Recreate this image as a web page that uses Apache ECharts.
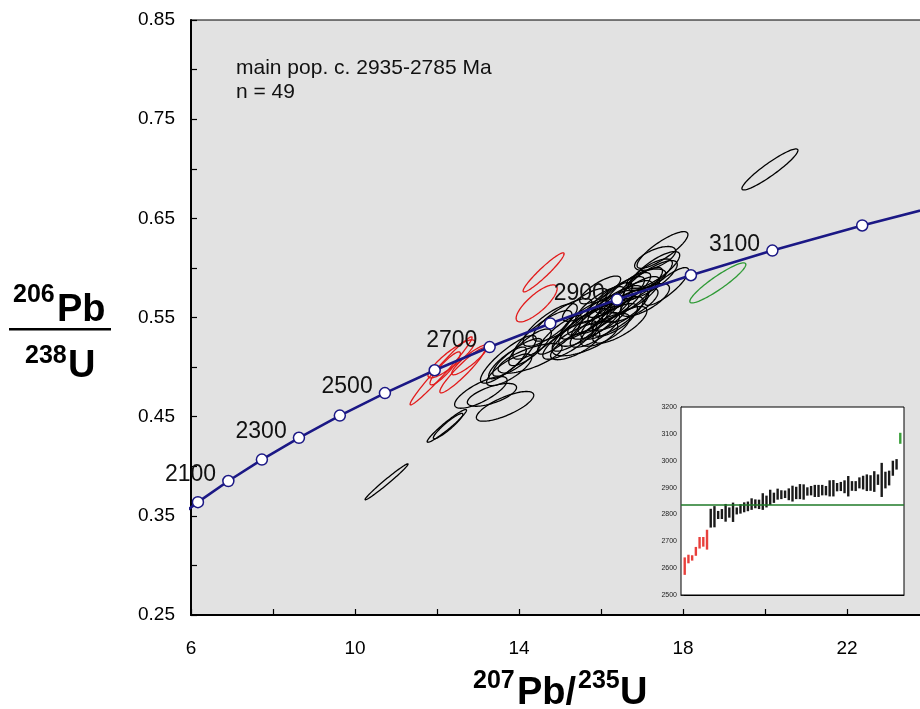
<!DOCTYPE html>
<html>
<head>
<meta charset="utf-8">
<script src="https://cdn.jsdelivr.net/npm/echarts@6/dist/echarts.min.js"></script>
<style>
  html, body { margin: 0; padding: 0; background: #fff; }
  #chart { width: 920px; height: 709px; }
</style>
</head>
<body>
<div id="chart"></div>
<script>
// Concordia reference points (t in Ma) and their isotope ratios
const concAges = [1900, 2000, 2100, 2200, 2300, 2400, 2500, 2600, 2700, 2800, 2900, 3000, 3100, 3200, 3300];
const concX = [5.496, 6.169, 6.911, 7.729, 8.633, 9.630, 10.730, 11.944, 13.284, 14.762, 16.393, 18.193, 20.180, 22.371, 24.790];
const concY = [0.3428, 0.3638, 0.3851, 0.4067, 0.4287, 0.4511, 0.4738, 0.4968, 0.5202, 0.5440, 0.5681, 0.5926, 0.6175, 0.6428, 0.6685];
const labeledAges = [2100, 2300, 2500, 2700, 2900, 3100];

// Analyses as error ellipses: [207Pb/235U, 206Pb/238U, 2s x, 2s y, rho]
const mainPopEllipses = [
  [12.24, 0.4407, 0.48, 0.0165, 0.96],
  [12.27, 0.4405, 0.36, 0.0128, 0.93],
  [13.07, 0.4745, 0.64, 0.0160, 0.76],
  [13.34, 0.4720, 0.60, 0.0115, 0.65],
  [13.66, 0.4604, 0.70, 0.0150, 0.75],
  [13.74, 0.5078, 0.68, 0.0240, 0.86],
  [13.72, 0.5042, 0.46, 0.0160, 0.82],
  [13.96, 0.5098, 0.60, 0.0190, 0.84],
  [13.76, 0.4972, 0.55, 0.0160, 0.78],
  [14.27, 0.5088, 0.78, 0.0150, 0.72],
  [14.27, 0.5199, 0.52, 0.0185, 0.80],
  [14.57, 0.5325, 0.72, 0.0245, 0.84],
  [14.76, 0.5425, 0.66, 0.0215, 0.80],
  [15.06, 0.5476, 0.72, 0.0215, 0.80],
  [15.24, 0.5274, 0.66, 0.0195, 0.80],
  [15.37, 0.5224, 0.60, 0.0150, 0.72],
  [15.49, 0.5375, 0.68, 0.0215, 0.84],
  [15.61, 0.5476, 0.60, 0.0195, 0.80],
  [15.73, 0.5425, 0.76, 0.0215, 0.80],
  [15.61, 0.5289, 0.80, 0.0175, 0.68],
  [15.85, 0.5526, 0.66, 0.0205, 0.84],
  [15.98, 0.5476, 0.70, 0.0195, 0.80],
  [15.98, 0.5627, 0.60, 0.0185, 0.80],
  [16.10, 0.5556, 0.66, 0.0215, 0.84],
  [16.10, 0.5375, 0.60, 0.0165, 0.72],
  [16.22, 0.5677, 0.55, 0.0175, 0.80],
  [16.27, 0.5496, 0.76, 0.0215, 0.80],
  [16.34, 0.5627, 0.66, 0.0195, 0.80],
  [16.46, 0.5728, 0.60, 0.0185, 0.80],
  [16.46, 0.5577, 0.70, 0.0205, 0.78],
  [16.59, 0.5677, 0.66, 0.0195, 0.80],
  [16.66, 0.5778, 0.55, 0.0175, 0.80],
  [16.71, 0.5627, 0.68, 0.0175, 0.72],
  [16.83, 0.5728, 0.60, 0.0185, 0.78],
  [16.95, 0.5829, 0.55, 0.0175, 0.80],
  [17.07, 0.5677, 0.60, 0.0165, 0.72],
  [17.20, 0.5879, 0.66, 0.0195, 0.80],
  [17.32, 0.5980, 0.60, 0.0185, 0.80],
  [15.00, 0.5325, 0.55, 0.0195, 0.84],
  [15.85, 0.5375, 0.60, 0.0175, 0.76],
  [16.34, 0.5476, 0.55, 0.0165, 0.72],
  [17.50, 0.6181, 0.62, 0.0185, 0.84],
  [17.32, 0.6096, 0.50, 0.0120, 0.62],
  [17.60, 0.5813, 0.54, 0.0190, 0.84],
  [17.20, 0.5930, 0.54, 0.0160, 0.74],
  [17.10, 0.5889, 0.48, 0.0100, 0.55],
  [15.61, 0.5627, 0.55, 0.0165, 0.78],
  [16.46, 0.5426, 0.66, 0.0185, 0.76],
  [15.98, 0.5778, 0.50, 0.0140, 0.78],
  [10.77, 0.3843, 0.524, 0.0181, 0.985],
  [20.12, 0.6993, 0.683, 0.0207, 0.93]
];
const youngEllipses = [
  [14.60, 0.5955, 0.50, 0.0197, 0.95],
  [14.43, 0.5642, 0.50, 0.0187, 0.80],
  [12.10, 0.4962, 0.756, 0.0343, 0.98],
  [12.35, 0.5083, 0.57, 0.0192, 0.88],
  [12.62, 0.4967, 0.55, 0.0227, 0.94],
  [12.80, 0.5073, 0.44, 0.0151, 0.90],
  [12.20, 0.4987, 0.37, 0.0166, 0.90]
];
const oldEllipses = [
  [18.85, 0.5849, 0.683, 0.0202, 0.92]
];

// 207Pb/206Pb ages (Ma), 2s ranges, in ranked order
const youngLow  = [2575, 2618, 2628, 2646, 2673, 2680, 2669];
const youngHigh = [2640, 2650, 2648, 2679, 2716, 2716, 2743];
const mainLow  = [2751, 2752, 2783, 2783, 2773, 2788, 2772, 2800, 2803, 2808, 2812, 2817, 2823, 2820, 2817,
                  2826, 2835, 2843, 2855, 2857, 2861, 2853, 2848, 2857, 2857, 2855, 2870, 2871, 2865, 2865,
                  2871, 2871, 2867, 2867, 2886, 2887, 2879, 2867, 2888, 2887, 2897, 2893, 2887, 2888, 2884,
                  2910, 2865, 2897, 2908, 2944, 2967];
const mainHigh = [2821, 2831, 2813, 2820, 2839, 2826, 2844, 2826, 2838, 2845, 2848, 2860, 2856, 2855, 2879,
                  2870, 2892, 2881, 2896, 2890, 2889, 2897, 2907, 2903, 2913, 2912, 2901, 2906, 2910, 2910,
                  2910, 2906, 2927, 2928, 2917, 2921, 2927, 2943, 2924, 2924, 2938, 2944, 2949, 2946, 2961,
                  2949, 2992, 2959, 2963, 3000, 3006];
const oldLow  = [3063];
const oldHigh = [3104];
const meanAge = 2835;

const annotation = ['main pop. c. 2935-2785 Ma', 'n = 49'];

const FONT = '"Liberation Sans", Arial, Helvetica, sans-serif';
const NAVY = '#1b1885';

function ellipseItem(color) {
  return function (params, api) {
    const cx = api.value(0), cy = api.value(1), ex = api.value(2), ey = api.value(3), r = api.value(4);
    const s = Math.sqrt(Math.max(0, 1 - r * r));
    const pts = [];
    const n = 90;
    for (let k = 0; k < n; k++) {
      const t = (k / n) * Math.PI * 2;
      pts.push(api.coord([cx + ex * Math.cos(t), cy + ey * (r * Math.cos(t) + s * Math.sin(t))]));
    }
    return { type: 'polygon', shape: { points: pts }, style: { fill: 'none', stroke: color, lineWidth: 1.3 } };
  };
}

function barItem(color) {
  return function (params, api) {
    const top = api.coord([api.value(0), api.value(2)]);
    const bot = api.coord([api.value(0), api.value(1)]);
    return { type: 'rect', shape: { x: top[0] - 1.2, y: top[1], width: 2.4, height: bot[1] - top[1] },
             style: { fill: color } };
  };
}

const concData = concAges.map((a, i) => ({
  value: [concX[i], concY[i]],
  label: { show: labeledAges.indexOf(a) >= 0, formatter: String(a) }
}));

let idx = 0;
const youngBars = youngLow.map((v, i) => [idx++, v, youngHigh[i]]);
const mainBars = mainLow.map((v, i) => [idx++, v, mainHigh[i]]);
const oldBars = oldLow.map((v, i) => [idx++, v, oldHigh[i]]);

const chart = echarts.init(document.getElementById('chart'), null, { renderer: 'canvas' });

chart.setOption({
  animation: false,
  backgroundColor: '#fff',
  textStyle: { fontFamily: FONT },
  grid: [
    { left: 191, top: 20, width: 738, height: 595, show: true, backgroundColor: '#e2e2e2',
      borderColor: '#000', borderWidth: 1.2, outerBoundsMode: 'none', containLabel: false },
    { left: 681, top: 407, width: 223, height: 188, show: true, backgroundColor: '#fff',
      borderColor: '#000', borderWidth: 1, z: 2, outerBoundsMode: 'none', containLabel: false }
  ],
  xAxis: [
    { type: 'value', gridIndex: 0, min: 6, max: 24, interval: 2,
      axisLine: { onZero: false, lineStyle: { color: '#000', width: 2 } },
      axisTick: { inside: true, length: 6, lineStyle: { color: '#000', width: 1.2 } },
      axisLabel: { fontSize: 19, color: '#000', margin: 24, fontFamily: FONT,
        formatter: v => (Math.round(v) % 4 === 2 ? String(v) : '') },
      splitLine: { show: false } },
    { type: 'value', gridIndex: 1, min: -1, max: 59,
      axisLine: { onZero: false, lineStyle: { color: '#000', width: 1 } },
      axisTick: { show: false }, axisLabel: { show: false }, splitLine: { show: false } }
  ],
  yAxis: [
    { type: 'value', gridIndex: 0, min: 0.25, max: 0.85, interval: 0.05,
      axisLine: { onZero: false, lineStyle: { color: '#000', width: 2 } },
      axisTick: { inside: true, length: 6, lineStyle: { color: '#000', width: 1.2 } },
      axisLabel: { fontSize: 19, color: '#000', margin: 16, fontFamily: FONT,
        formatter: v => { const k = Math.round(v * 100); return k % 10 === 5 ? (k / 100).toFixed(2) : ''; } },
      splitLine: { show: false } },
    { type: 'value', gridIndex: 1, min: 2500, max: 3200, interval: 100,
      axisLine: { onZero: false, lineStyle: { color: '#000', width: 1 } },
      axisTick: { inside: true, length: 3, lineStyle: { color: '#333' } },
      minorTick: { show: true, splitNumber: 2, length: 3, lineStyle: { color: '#333' } },
      axisLabel: { fontSize: 7, color: '#222', margin: 4, fontFamily: FONT, formatter: v => String(v) },
      splitLine: { show: true, lineStyle: { color: '#8c8c8c', width: 1.2 } } }
  ],
  series: [
    { type: 'custom', name: 'main population', xAxisIndex: 0, yAxisIndex: 0, clip: true, z: 2,
      encode: { x: 0, y: 1 }, data: mainPopEllipses, renderItem: ellipseItem('#000') },
    { type: 'custom', name: 'younger', xAxisIndex: 0, yAxisIndex: 0, clip: true, z: 2,
      encode: { x: 0, y: 1 }, data: youngEllipses, renderItem: ellipseItem('#e21a1a') },
    { type: 'custom', name: 'older', xAxisIndex: 0, yAxisIndex: 0, clip: true, z: 2,
      encode: { x: 0, y: 1 }, data: oldEllipses, renderItem: ellipseItem('#2e9a35') },
    { type: 'line', name: 'concordia', xAxisIndex: 0, yAxisIndex: 0, clip: true, z: 5,
      data: concData, symbol: 'circle', symbolSize: 11, showAllSymbol: true,
      lineStyle: { color: NAVY, width: 2.6 },
      itemStyle: { color: '#fff', borderColor: NAVY, borderWidth: 1.5 },
      label: { position: 'left', distance: 6, offset: [0, -6], fontSize: 23, color: '#111', fontFamily: FONT } },
    { type: 'custom', name: 'younger ages', xAxisIndex: 1, yAxisIndex: 1, z: 3,
      encode: { x: 0, y: [1, 2] }, data: youngBars, renderItem: barItem('#e8403c') },
    { type: 'custom', name: 'main ages', xAxisIndex: 1, yAxisIndex: 1, z: 3,
      encode: { x: 0, y: [1, 2] }, data: mainBars, renderItem: barItem('#1a1a1a') },
    { type: 'custom', name: 'older ages', xAxisIndex: 1, yAxisIndex: 1, z: 3,
      encode: { x: 0, y: [1, 2] }, data: oldBars, renderItem: barItem('#3aa03a') },
    { type: 'line', name: 'mean', xAxisIndex: 1, yAxisIndex: 1, z: 4, symbol: 'none',
      data: [[-1, meanAge], [59, meanAge]], lineStyle: { color: '#1f7a28', width: 1.5 } }
  ],
  graphic: [
    { type: 'text', left: 236, top: 58, z: 10,
      style: { text: annotation[0], font: '21px ' + FONT, fill: '#111' } },
    { type: 'text', left: 236, top: 82, z: 10,
      style: { text: annotation[1], font: '21px ' + FONT, fill: '#111' } },
    // y-axis title: 206Pb / 238U
    { type: 'text', left: 13, top: 283, style: { text: '206', font: 'bold 25px ' + FONT, fill: '#000' } },
    { type: 'text', left: 57, top: 292, style: { text: 'Pb', font: 'bold 38px ' + FONT, fill: '#000' } },
    { type: 'rect', shape: { x: 9, y: 328, width: 102, height: 2.5 }, style: { fill: '#000' } },
    { type: 'text', left: 25, top: 344, style: { text: '238', font: 'bold 25px ' + FONT, fill: '#000' } },
    { type: 'text', left: 68, top: 348, style: { text: 'U', font: 'bold 38px ' + FONT, fill: '#000' } },
    // x-axis title: 207Pb/235U
    { type: 'text', left: 473, top: 669, style: { text: '207', font: 'bold 25px ' + FONT, fill: '#000' } },
    { type: 'text', left: 517, top: 675, style: { text: 'Pb/', font: 'bold 38px ' + FONT, fill: '#000' } },
    { type: 'text', left: 578, top: 669, style: { text: '235', font: 'bold 25px ' + FONT, fill: '#000' } },
    { type: 'text', left: 620, top: 675, style: { text: 'U', font: 'bold 38px ' + FONT, fill: '#000' } }
  ]
});
</script>
</body>
</html>
